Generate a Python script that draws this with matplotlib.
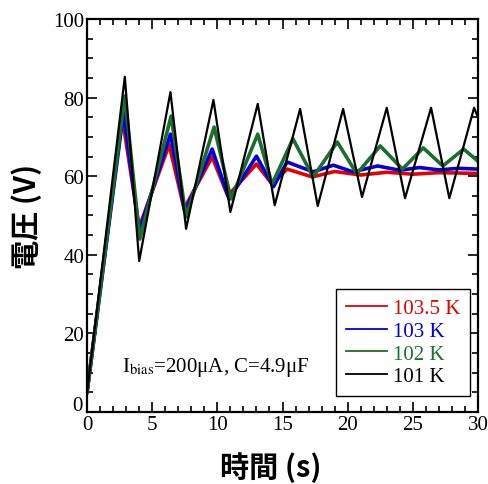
import numpy as np
import matplotlib.pyplot as plt
from matplotlib.ticker import MultipleLocator, FuncFormatter

# 101 K
t_101 = [0, 2.9, 4.0, 6.4, 7.6, 9.7, 11.0, 13.1, 14.4, 16.35, 17.7, 19.65, 21.1, 23.0, 24.4, 26.4, 27.8, 29.7, 30]
v_101 = [5, 85.3, 38.4, 81.4, 46.6, 79.4, 50.9, 78.4, 52.6, 77.1, 52.4, 77.1, 54.7, 77.4, 54.4, 77.4, 54.4, 77.4, 75]
# 102 K
t_102 = [0, 2.9, 4.05, 6.45, 7.6, 9.75, 11.05, 13.1, 14.2, 15.8, 17.35, 19.2, 20.7, 22.5, 24.2, 25.8, 27.3, 28.9, 30]
v_102 = [5, 80.4, 44, 75.3, 49.6, 72.5, 54.2, 70.7, 58, 69.5, 59.8, 68.7, 60.6, 67.7, 61.8, 67.2, 62.6, 66.9, 63.8]
# 103 K
t_103 = [0, 2.8, 4.0, 6.4, 7.5, 9.6, 10.9, 13.0, 14.3, 15.35, 17.35, 18.9, 20.4, 22.3, 24.0, 25.5, 27, 28.5, 30]
v_103 = [5, 76.3, 46, 70.7, 50.9, 66.9, 54.2, 65.1, 57.3, 63.6, 61.1, 62.8, 61.1, 62.6, 61.5, 62.2, 61.6, 62.0, 61.8]
# 103.5 K
t_1035 = [0, 2.7, 4.0, 6.3, 7.45, 9.6, 10.8, 13.0, 14.2, 15.35, 17.3, 19, 21, 23, 25, 27, 30]
v_1035 = [5, 75, 47, 68, 51.7, 64.9, 55, 63.1, 58, 61.8, 59.8, 61.2, 60.3, 61, 60.5, 60.9, 60.7]

labels = ["103.5 K", "103 K", "102 K", "101 K"]
colors = ["#e60000", "#0000dd", "#1b6e2b", "black"]

plt.rcParams['mathtext.fontset'] = 'stix'

fig = plt.figure(figsize=(4.89, 4.85), dpi=100)
ax = fig.add_axes([0.178, 0.1485, 0.7995, 0.8103])

series = [(t_1035, v_1035), (t_103, v_103), (t_102, v_102), (t_101, v_101)]
for (t, v), lab, c in zip(series, labels, colors):
    lw = 1.6 if c == "black" else 2.6
    ax.plot(t, v, color=c, lw=lw, label=lab)

ax.set_xlim(0, 30)
ax.set_ylim(0, 100)
ax.xaxis.set_major_locator(MultipleLocator(5))
ax.xaxis.set_minor_locator(MultipleLocator(1))
ax.yaxis.set_major_locator(MultipleLocator(20))
ax.yaxis.set_minor_locator(MultipleLocator(5))
# y "0" is drawn by hand a bit higher so it does not hit the x "0"
ax.yaxis.set_major_formatter(FuncFormatter(lambda v, p: "" if v == 0 else f"{v:g}"))
ax.tick_params(which='both', direction='in', top=True, right=True, width=1.2)
ax.tick_params(which='major', length=7, labelsize=15, pad=2)
ax.tick_params(which='minor', length=4)
for lbl in ax.get_xticklabels() + ax.get_yticklabels():
    lbl.set_family('Liberation Serif')
for s in ax.spines.values():
    s.set_linewidth(1.6)
ax.text(-0.012, 0.004, "0", transform=ax.transAxes, ha='right', va='baseline',
        fontsize=15, family='Liberation Serif')

ax.set_xlabel("時間 (s)", fontsize=21, family=['Noto Sans CJK JP', 'DejaVu Sans'], weight='bold')
ax.xaxis.set_label_coords(0.47, -0.1)
ax.set_ylabel("電圧 (V)", fontsize=21, family=['Noto Sans CJK JP', 'DejaVu Sans'], weight='bold', labelpad=8)

ax.text(0.09, 0.105, r"I$_{\mathrm{bias}}$=200μA, C=4.9μF", transform=ax.transAxes,
        fontsize=15, family='Liberation Serif')

leg = ax.legend(loc='lower right', bbox_to_anchor=(0.98, 0.041), borderaxespad=0,
                fancybox=False, edgecolor='black', framealpha=1,
                prop={'family': 'Liberation Serif', 'size': 15},
                handlelength=2.0, handletextpad=0.3, labelspacing=0.15, borderpad=0.45)
leg.get_frame().set_linewidth(1.0)
for line, txt, c in zip(leg.get_lines(), leg.get_texts(), colors):
    line.set_linewidth(1.3)
    txt.set_color(c)

fig.savefig("out.png", dpi=100)
